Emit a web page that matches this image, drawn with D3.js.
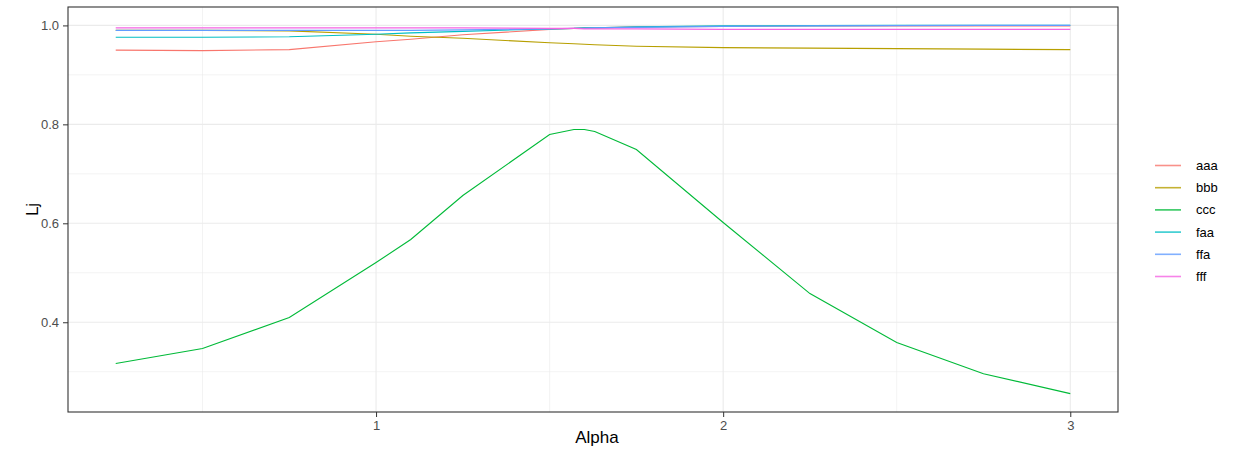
<!DOCTYPE html>
<html>
<head>
<meta charset="utf-8">
<script src="https://cdn.jsdelivr.net/npm/d3@7"></script>
<style>
  body { margin: 0; background: #fff; }
  svg { display: block; font-family: "Liberation Sans", Arial, sans-serif; }
</style>
</head>
<body>
<div id="chart"></div>
<script>
// alpha values shared by all series
const alpha = [0.25, 0.5, 0.75, 1.0, 1.1, 1.25, 1.5, 1.57, 1.6, 1.63, 1.75, 2.0, 2.25, 2.5, 2.75, 3.0];

const aaa = [0.950, 0.949, 0.951, 0.967, 0.972, 0.981, 0.992, 0.994, 0.995, 0.995, 0.997, 0.998, 0.999, 0.999, 0.999, 0.999];
const bbb = [0.990, 0.990, 0.989, 0.982, 0.978, 0.974, 0.965, 0.963, 0.962, 0.961, 0.958, 0.955, 0.954, 0.953, 0.952, 0.951];
const ccc = [0.3165, 0.3468, 0.4095, 0.5207, 0.5672, 0.6562, 0.7796, 0.7897, 0.7897, 0.7856, 0.7492, 0.6016, 0.458, 0.359, 0.296, 0.2558];
const faa = [0.976, 0.976, 0.977, 0.982, 0.985, 0.988, 0.993, 0.994, 0.995, 0.995, 0.997, 0.999, 0.9995, 1.0, 1.0, 1.0];
const ffa = [0.990, 0.990, 0.990, 0.990, 0.990, 0.991, 0.993, 0.994, 0.994, 0.995, 0.996, 0.998, 0.999, 0.9995, 1.0, 1.0];
const fff = [0.995, 0.995, 0.995, 0.995, 0.995, 0.995, 0.994, 0.994, 0.993, 0.993, 0.993, 0.992, 0.992, 0.992, 0.992, 0.992];

const seriesNames = ["aaa", "bbb", "ccc", "faa", "ffa", "fff"];
const seriesValues = [aaa, bbb, ccc, faa, ffa, fff];
const colors = ["#F8766D", "#B79F00", "#00BA38", "#00BFC4", "#619CFF", "#F564E3"];

const xTicks = [1, 2, 3];
const xMinor = [0.5, 1.5, 2.5];
const yTicks = [0.4, 0.6, 0.8, 1.0];
const yMinor = [0.3, 0.5, 0.7, 0.9];

const width = 1241;
const height = 450;
const panel = { left: 68, right: 1118, top: 7, bottom: 412 };

const svg = d3.select("#chart").append("svg")
    .attr("width", width)
    .attr("height", height);

// ggplot style 5% expansion
const xExt = d3.extent(alpha);
const yExt = d3.extent(seriesValues.flat());
const xPad = (xExt[1] - xExt[0]) * 0.05;
const yPad = (yExt[1] - yExt[0]) * 0.05;

const x = d3.scaleLinear().domain([xExt[0] - xPad, xExt[1] + xPad]).range([panel.left, panel.right]);
const y = d3.scaleLinear().domain([yExt[0] - yPad, yExt[1] + yPad]).range([panel.bottom, panel.top]);

const color = d3.scaleOrdinal().domain(seriesNames).range(colors);

// grid
const grid = svg.append("g");
grid.selectAll("line.xminor").data(xMinor).join("line")
    .attr("x1", d => x(d)).attr("x2", d => x(d))
    .attr("y1", panel.top).attr("y2", panel.bottom)
    .attr("stroke", "#EBEBEB").attr("stroke-width", 0.6);
grid.selectAll("line.yminor").data(yMinor).join("line")
    .attr("y1", d => y(d)).attr("y2", d => y(d))
    .attr("x1", panel.left).attr("x2", panel.right)
    .attr("stroke", "#EBEBEB").attr("stroke-width", 0.6);
grid.selectAll("line.xmajor").data(xTicks).join("line")
    .attr("x1", d => x(d)).attr("x2", d => x(d))
    .attr("y1", panel.top).attr("y2", panel.bottom)
    .attr("stroke", "#EBEBEB").attr("stroke-width", 1.1);
grid.selectAll("line.ymajor").data(yTicks).join("line")
    .attr("y1", d => y(d)).attr("y2", d => y(d))
    .attr("x1", panel.left).attr("x2", panel.right)
    .attr("stroke", "#EBEBEB").attr("stroke-width", 1.1);

// lines
const line = d3.line()
    .x((d, i) => x(alpha[i]))
    .y(d => y(d));

svg.append("g")
    .selectAll("path")
    .data(seriesNames)
    .join("path")
    .attr("d", (d, i) => line(seriesValues[i]))
    .attr("fill", "none")
    .attr("stroke", d => color(d))
    .attr("stroke-width", 1.1);

// panel border
svg.append("rect")
    .attr("x", panel.left).attr("y", panel.top)
    .attr("width", panel.right - panel.left)
    .attr("height", panel.bottom - panel.top)
    .attr("fill", "none")
    .attr("stroke", "#333333")
    .attr("stroke-width", 1.1);

// axes
const axisX = d3.axisBottom(x).tickValues(xTicks).tickSize(5).tickPadding(4).tickFormat(d3.format("d"));
svg.append("g")
    .attr("transform", `translate(0, ${panel.bottom})`)
    .call(axisX)
    .call(g => g.select(".domain").remove())
    .call(g => g.selectAll(".tick line").attr("stroke", "#333333"))
    .call(g => g.selectAll(".tick text").attr("fill", "#4D4D4D").style("font-size", "13px"));

const axisY = d3.axisLeft(y).tickValues(yTicks).tickSize(5).tickPadding(4).tickFormat(d3.format(".1f"));
svg.append("g")
    .attr("transform", `translate(${panel.left}, 0)`)
    .call(axisY)
    .call(g => g.select(".domain").remove())
    .call(g => g.selectAll(".tick line").attr("stroke", "#333333"))
    .call(g => g.selectAll(".tick text").attr("fill", "#4D4D4D").style("font-size", "13px"));

// axis titles
svg.append("text")
    .attr("x", (panel.left + panel.right) / 2 + 4)
    .attr("y", 443)
    .attr("text-anchor", "middle")
    .style("font-size", "17px")
    .text("Alpha");

svg.append("text")
    .attr("transform", `translate(38, ${(panel.top + panel.bottom) / 2}) rotate(-90)`)
    .attr("text-anchor", "middle")
    .style("font-size", "17px")
    .text("Lj");

// legend
const legend = svg.append("g").attr("transform", "translate(1155, 165)");
const items = legend.selectAll("g")
    .data(seriesNames)
    .join("g")
    .attr("transform", (d, i) => `translate(0, ${i * 22.2})`);
items.append("line")
    .attr("x1", 0).attr("x2", 26)
    .attr("y1", 0.5).attr("y2", 0.5)
    .attr("stroke", d => color(d))
    .attr("stroke-width", 1.6)
    .attr("stroke-opacity", 0.8);
items.append("text")
    .attr("x", 41)
    .attr("y", 5)
    .style("font-size", "13px")
    .attr("fill", "#000")
    .text(d => d);
</script>
</body>
</html>
